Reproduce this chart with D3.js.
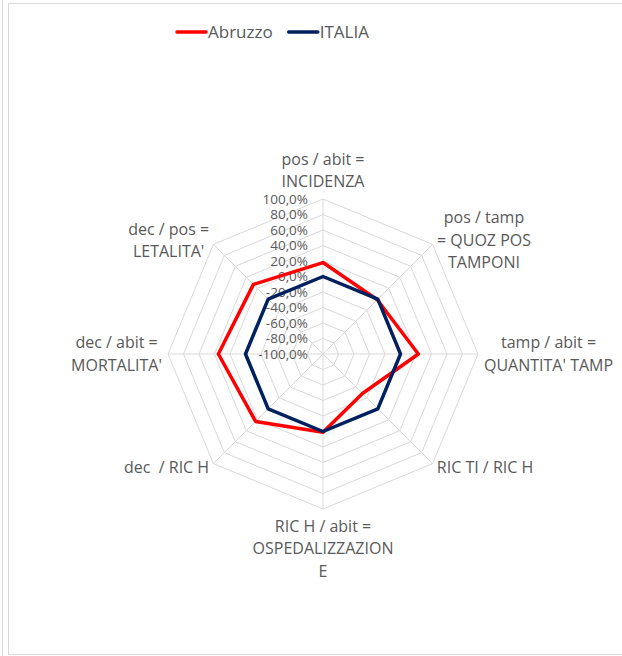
<!DOCTYPE html>
<html lang="it">
<head>
<meta charset="UTF-8">
<title>Abruzzo vs ITALIA</title>
<script src="https://cdn.jsdelivr.net/npm/d3@7"></script>
<style>
    body { margin: 0; background: #fff; }
    text { font-family: "Open Sans", sans-serif; fill: #595959; white-space: pre; }
</style>
</head>
<body>
<div id="chart"></div>
<script>
    // axis labels (clockwise from top), one array entry per line
    const axisLabels = [
        ["pos / abit =", "INCIDENZA"],
        ["pos / tamp", "= QUOZ POS", "TAMPONI"],
        ["tamp / abit =", "QUANTITA' TAMP"],
        ["RIC TI / RIC H"],
        ["RIC H / abit =", "OSPEDALIZZAZION", "E"],
        ["dec  / RIC H"],
        ["dec / abit =", "MORTALITA'"],
        ["dec / pos =", "LETALITA'"]
    ];
    const seriesNames = ["Abruzzo", "ITALIA"];
    const abruzzo = [0.18, -0.01, 0.23, -0.28, 0.01, 0.23, 0.35, 0.27];
    const italia = [0, 0, 0, 0, 0, 0, 0, 0];
    const tickValues = [-1, -0.8, -0.6, -0.4, -0.2, 0, 0.2, 0.4, 0.6, 0.8, 1];

    const colors = ["#ff0000", "#002060"];
    const W = 622, H = 656;
    const cx = 323, cy = 354, R = 155;
    const lineH = 22.5;

    const it = d3.formatLocale({decimal: ",", thousands: ".", grouping: [3], currency: ["€", ""], minus: "-"});
    const pct = it.format(".1%");

    const svg = d3.select("#chart").append("svg")
        .attr("width", W)
        .attr("height", H);

    // chart border
    svg.append("line")
        .attr("x1", 2.5).attr("x2", 2.5).attr("y1", 0).attr("y2", H)
        .attr("stroke", "#d9d9d9");
    svg.append("rect")
        .attr("x", 8.5).attr("y", 3.5)
        .attr("width", W).attr("height", 651)
        .attr("fill", "none").attr("stroke", "#d9d9d9");

    const r = d3.scaleLinear().domain([-1, 1]).range([0, R]);
    const angle = d3.scaleLinear().domain([0, axisLabels.length]).range([0, 2 * Math.PI]);
    const idx = d3.range(axisLabels.length);

    const g = svg.append("g").attr("transform", `translate(${cx},${cy})`);

    // rings
    g.selectAll(".ring")
        .data(tickValues.slice(1))
        .enter().append("path")
        .attr("class", "ring")
        .attr("fill", "none")
        .attr("stroke", "#d9d9d9")
        .attr("d", v => d3.lineRadial().angle(i => angle(i)).radius(() => r(v))
            .curve(d3.curveLinearClosed)(idx));

    // spokes
    g.selectAll(".spoke")
        .data(idx)
        .enter().append("line")
        .attr("class", "spoke")
        .attr("stroke", "#d9d9d9")
        .attr("x1", 0).attr("y1", 0)
        .attr("x2", i => r(1) * Math.sin(angle(i)))
        .attr("y2", i => -r(1) * Math.cos(angle(i)));

    // tick labels along the vertical axis
    g.selectAll(".tick")
        .data(tickValues)
        .enter().append("text")
        .attr("class", "tick")
        .attr("x", -15)
        .attr("y", v => -r(v))
        .attr("dy", "0.35em")
        .attr("text-anchor", "end")
        .style("font-size", "13.5px")
        .text(v => pct(v));

    // series
    const radar = d3.lineRadial()
        .angle((d, i) => angle(i))
        .radius(d => r(d))
        .curve(d3.curveLinearClosed);

    g.selectAll(".series")
        .data([abruzzo, italia])
        .enter().append("path")
        .attr("class", "series")
        .attr("fill", "none")
        .attr("stroke", (d, i) => colors[i])
        .attr("stroke-width", 3.5)
        .attr("stroke-linejoin", "round")
        .attr("d", d => radar(d));

    // category labels
    const labelG = g.selectAll(".cat")
        .data(axisLabels)
        .enter().append("g")
        .attr("class", "cat");

    labelG.each(function(lines, i) {
        const a = angle(i);
        const ax = (R + 6) * Math.sin(a), ay = -(R + 6) * Math.cos(a);
        const t = d3.select(this).append("text")
            .attr("text-anchor", "middle")
            .style("font-size", "16px");
        t.selectAll("tspan")
            .data(lines)
            .enter().append("tspan")
            .attr("x", 0)
            .attr("y", (d, k) => k * lineH)
            .attr("dy", "0.35em")
            .text(d => d);
        const w = t.node().getBBox().width;
        const h = lines.length * lineH;
        let x = ax, yTop;
        if (Math.abs(ax) < 1) {
            yTop = ay < 0 ? ay - h : ay;
        } else {
            x = ax > 0 ? ax + w / 2 : ax - w / 2;
            yTop = ay - h / 2;
        }
        t.attr("transform", `translate(${x},${yTop + lineH / 2})`);
    });

    // legend
    const legend = svg.append("g").attr("transform", "translate(177,32)");
    let lx = 0;
    seriesNames.forEach((name, i) => {
        legend.append("line")
            .attr("x1", lx).attr("x2", lx + 29)
            .attr("y1", 0).attr("y2", 0)
            .attr("stroke", colors[i])
            .attr("stroke-width", 3.5)
            .attr("stroke-linecap", "round");
        const t = legend.append("text")
            .attr("x", lx + 31)
            .attr("dy", "0.35em")
            .style("font-size", "17px")
            .text(name);
        lx += 31 + t.node().getComputedTextLength() + 16;
    });
</script>
</body>
</html>
